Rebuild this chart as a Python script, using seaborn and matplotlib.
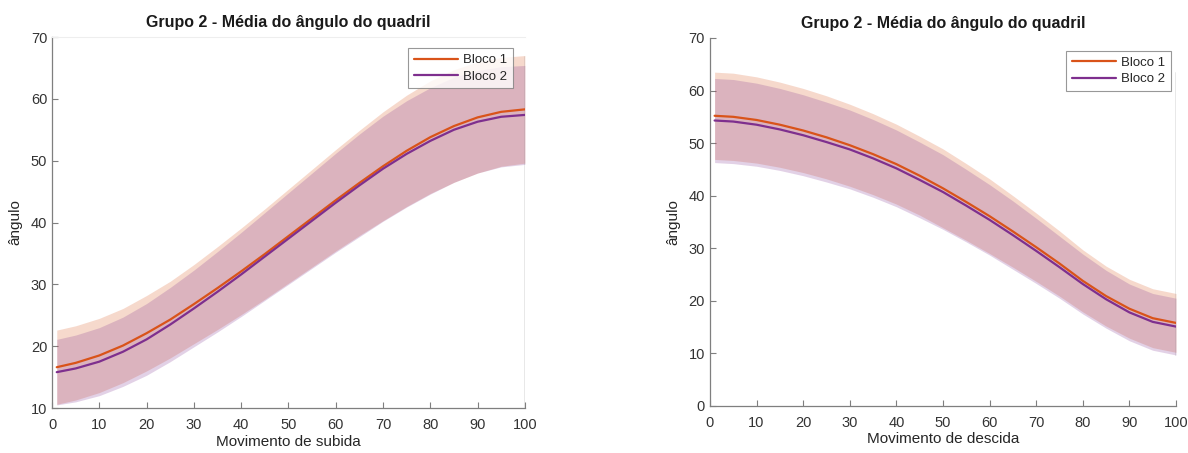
import numpy as np
import pandas as pd
import matplotlib
matplotlib.use("Agg")
import matplotlib.pyplot as plt
import seaborn as sns

# Movement progress (% of cycle)
x = [1, 5, 10, 15, 20, 25, 30, 35, 40, 45, 50, 55, 60, 65, 70, 75, 80, 85, 90, 95, 100]

# Rising movement (subida): mean hip angle and standard deviation per block
sub_b1_mean = [16.6, 17.3, 18.5, 20.1, 22.1, 24.3, 26.8, 29.4, 32.1, 34.9, 37.8,
               40.7, 43.6, 46.4, 49.1, 51.6, 53.8, 55.6, 57.0, 57.9, 58.3]
sub_b1_sd = [6.0, 6.0, 6.0, 6.0, 6.1, 6.2, 6.4, 6.7, 7.0, 7.3, 7.6,
             7.9, 8.2, 8.5, 8.8, 9.0, 9.1, 9.1, 9.0, 8.8, 8.7]
sub_b2_mean = [15.8, 16.4, 17.5, 19.1, 21.1, 23.5, 26.1, 28.8, 31.6, 34.5, 37.4,
               40.3, 43.2, 46.0, 48.7, 51.1, 53.2, 55.0, 56.3, 57.1, 57.4]
sub_b2_sd = [5.3, 5.4, 5.5, 5.6, 5.8, 6.0, 6.2, 6.5, 6.8, 7.1, 7.4,
             7.7, 8.0, 8.3, 8.5, 8.6, 8.6, 8.5, 8.3, 8.1, 8.0]

# Lowering movement (descida)
des_b1_mean = [55.2, 55.0, 54.4, 53.5, 52.4, 51.1, 49.6, 47.9, 46.0, 43.8, 41.4,
               38.8, 36.1, 33.2, 30.2, 27.1, 23.8, 20.9, 18.5, 16.7, 15.8]
des_b1_sd = [8.3, 8.3, 8.2, 8.1, 8.0, 7.9, 7.8, 7.7, 7.6, 7.5, 7.5,
             7.3, 7.1, 6.8, 6.5, 6.2, 5.9, 5.7, 5.6, 5.6, 5.6]
des_b2_mean = [54.3, 54.1, 53.5, 52.6, 51.5, 50.2, 48.8, 47.1, 45.2, 43.0, 40.7,
               38.1, 35.4, 32.5, 29.5, 26.4, 23.2, 20.3, 17.8, 16.0, 15.1]
des_b2_sd = [8.0, 8.0, 7.9, 7.8, 7.7, 7.6, 7.5, 7.4, 7.3, 7.2, 7.1,
             6.9, 6.7, 6.5, 6.2, 5.9, 5.7, 5.5, 5.4, 5.4, 5.4]

labels = ["Bloco 1", "Bloco 2"]
colors = ["#D95319", "#7E2F8E"]
title = "Grupo 2 - Média do ângulo do quadril"

sns.set_style("white")
plt.rcParams["font.family"] = ["Liberation Sans", "DejaVu Sans"]

fig = plt.figure(figsize=(11.88, 4.53), dpi=100)
ax1 = fig.add_axes([0.0438, 0.0993, 0.398, 0.819])
ax2 = fig.add_axes([0.5976, 0.1038, 0.3923, 0.8124])

panels = [
    (ax1, sub_b1_mean, sub_b1_sd, sub_b2_mean, sub_b2_sd, "Movimento de subida",
     (10, 70), (0.975, 0.970), True),
    (ax2, des_b1_mean, des_b1_sd, des_b2_mean, des_b2_sd, "Movimento de descida",
     (0, 70), (0.989, 0.965), False),
]

for ax, m1, s1, m2, s2, xlabel, ylim, leg_anchor, top_line in panels:
    xs = np.array(x)
    bands = [(np.array(m1), np.array(s1)), (np.array(m2), np.array(s2))]
    for (m, s), c in zip(bands, colors):
        ax.fill_between(xs, m - s, m + s, color=c, alpha=0.22, linewidth=0, zorder=1)

    # edge of the shaded region at the end of the cycle
    hi = max(bands[0][0][-1] + bands[0][1][-1], bands[1][0][-1] + bands[1][1][-1])
    lo = min(bands[0][0][-1] - bands[0][1][-1], bands[1][0][-1] - bands[1][1][-1])
    if top_line:
        lo = ylim[0]
    else:
        hi = max(bands[0][0][0] + bands[0][1][0], bands[1][0][0] + bands[1][1][0])
    ax.plot([100, 100], [lo, hi], color="#8c8c8c", linewidth=1.0, zorder=2)

    df = pd.DataFrame({
        "x": list(x) * 2,
        "y": list(m1) + list(m2),
        "bloco": [labels[0]] * len(x) + [labels[1]] * len(x),
    })
    sns.lineplot(data=df, x="x", y="y", hue="bloco", palette=colors, ax=ax,
                 linewidth=1.6, zorder=3, legend=False)

    ax.set_xlim(0, 100)
    ax.set_ylim(*ylim)
    ax.set_xticks(range(0, 101, 10))
    ax.set_yticks(range(ylim[0], 71, 10))
    ax.set_xlabel(xlabel, fontsize=11, color="#262626", labelpad=2)
    ax.set_ylabel("ângulo", fontsize=11, color="#262626", labelpad=6)
    ax.set_title(title, fontsize=11.5, fontweight="bold", color="#1a1a1a", pad=7)
    ax.tick_params(axis="x", pad=7)
    ax.tick_params(direction="in", length=4, width=0.8, colors="#7f7f7f",
                   labelcolor="#333333", labelsize=10.5,
                   top=False, right=False, left=True, bottom=True)
    for side in ["left", "bottom"]:
        ax.spines[side].set_color("#7f7f7f")
        ax.spines[side].set_linewidth(0.9)
    ax.spines["right"].set_visible(False)
    if top_line:
        ax.spines["top"].set_color("#eeeeee")
        ax.spines["top"].set_linewidth(0.8)
    else:
        ax.spines["top"].set_visible(False)

    handles = [plt.Line2D([], [], color=c, linewidth=1.6) for c in colors]
    leg = ax.legend(handles, labels, loc="upper right", bbox_to_anchor=leg_anchor,
                    fontsize=9.5, frameon=True, fancybox=False, handlelength=3.3,
                    handletextpad=0.4, borderpad=0.45, labelspacing=0.3,
                    borderaxespad=0)
    leg.get_frame().set_edgecolor("#7f7f7f")
    leg.get_frame().set_linewidth(0.8)
    leg.set_zorder(5)

fig.savefig("out.png", dpi=100, facecolor="white")
